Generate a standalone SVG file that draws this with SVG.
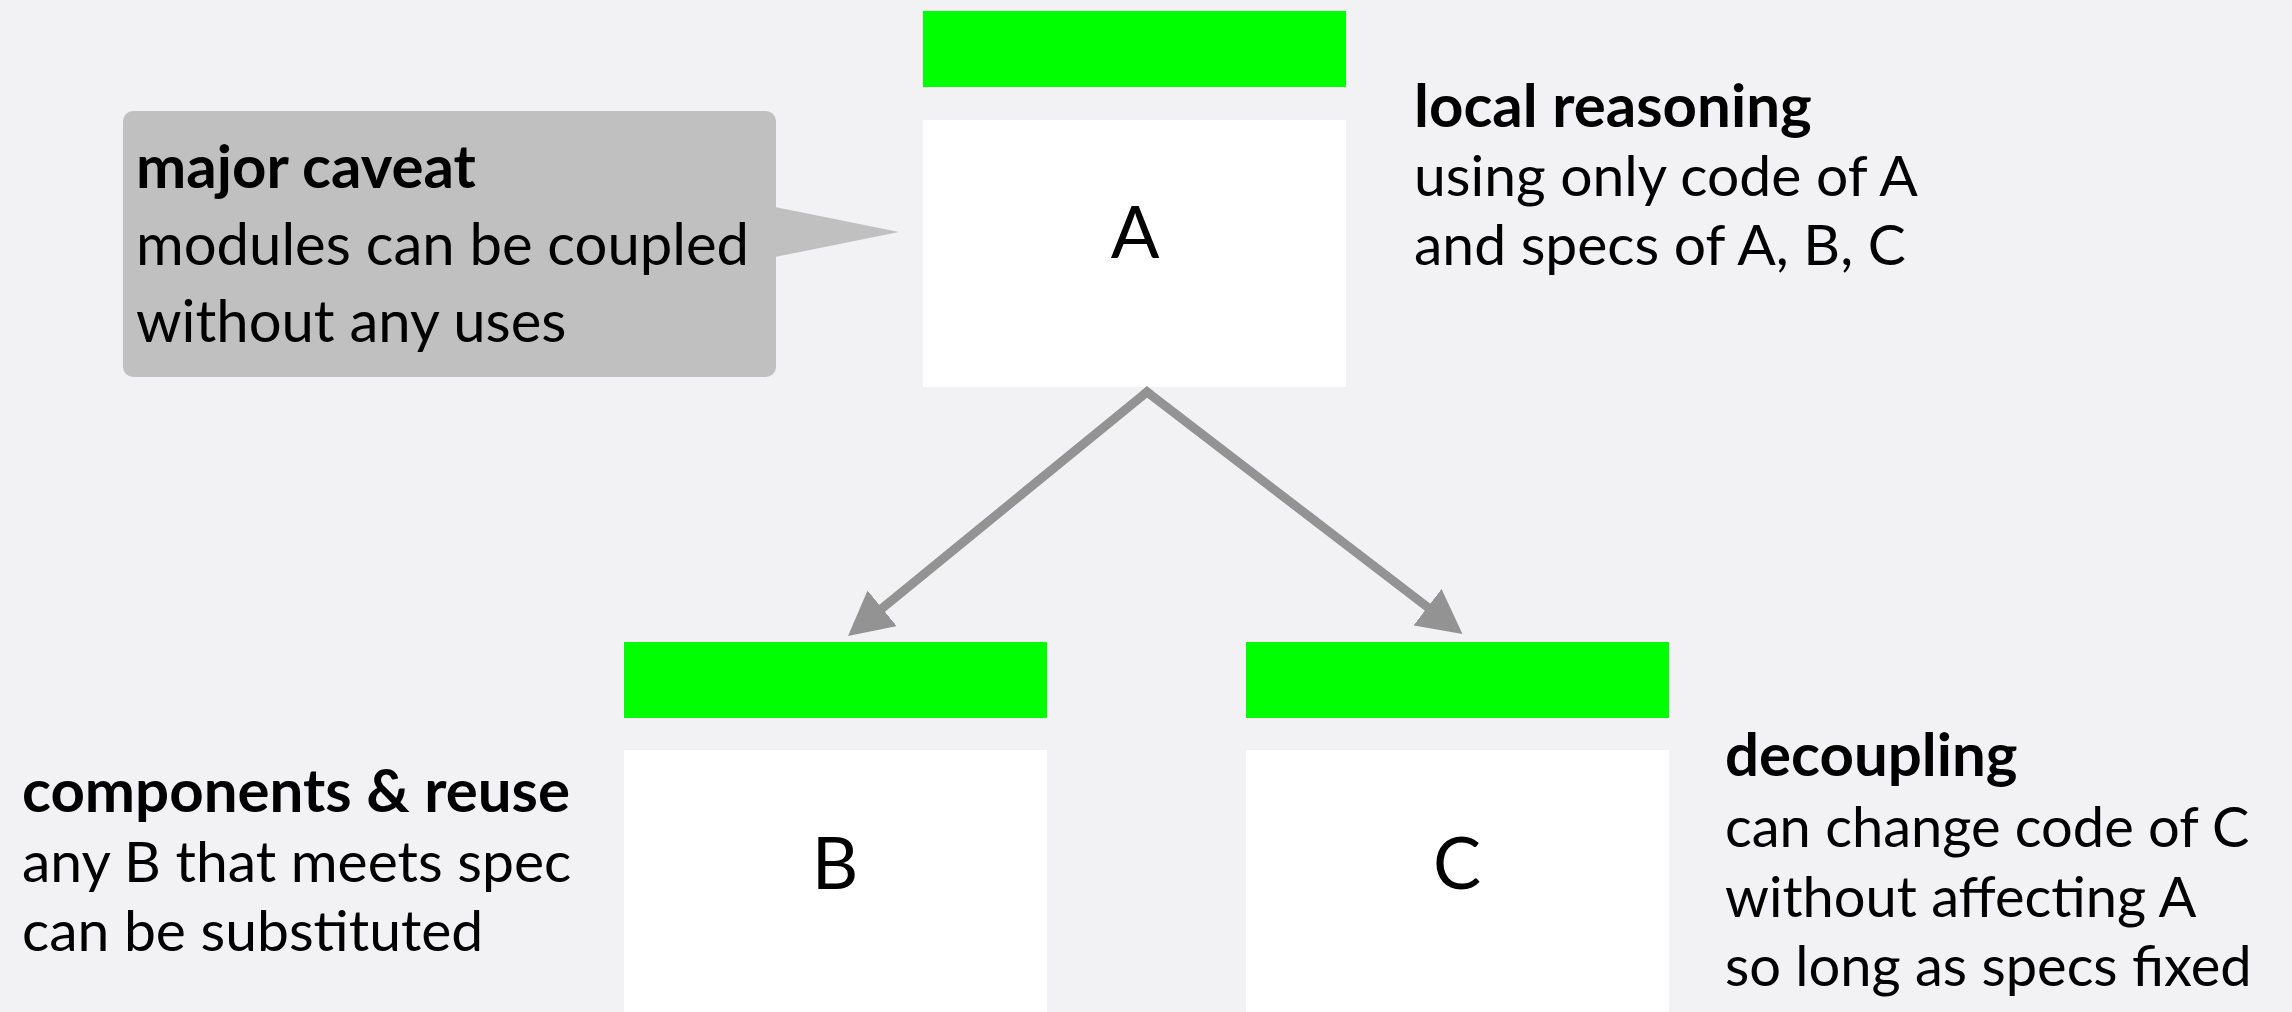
<svg xmlns="http://www.w3.org/2000/svg" width="2292" height="1012" viewBox="0 0 2292 1012">
<defs>
<style>
.bar{fill:#00ff00}
.box{fill:#ffffff}
.lbl{font-family:Lato,"Open Sans",sans-serif;font-size:72px;fill:#000;text-anchor:middle}
.t{font-family:Lato,"Open Sans",sans-serif;font-size:57px;fill:#000}
.tc{font-family:Lato,"Open Sans",sans-serif;font-size:58px;fill:#000}
.b{font-weight:bold;font-size:60px}
.conn{fill:none;stroke:#939393;stroke-width:9;stroke-linejoin:miter}
</style>
<marker id="ah" markerUnits="userSpaceOnUse" markerWidth="44" markerHeight="46" viewBox="0 0 44 46" refX="24" refY="23" orient="auto">
<path d="M0,0 L44,23 L0,46 Z" fill="#939393"/>
</marker>
</defs>
<rect width="2292" height="1012" fill="#f2f2f4"/>
<g id="caveat">
<rect x="123" y="111" width="653" height="266" rx="10" fill="#c0c0c0"/>
<path d="M770,206 L899,232 L770,258 Z" fill="#c0c0c0"/>
<text class="tc"><tspan class="b" x="136" y="188">major caveat</tspan><tspan x="136" y="265">modules can be coupled</tspan><tspan x="136" y="342">without any uses</tspan></text>
</g>
<g id="node-A">
<rect class="bar" x="923" y="11" width="423" height="76"/>
<rect class="box" x="923" y="120" width="423" height="267"/>
<text class="lbl" x="1135" y="258">A</text>
</g>
<g id="node-B">
<rect class="bar" x="624" y="642" width="423" height="76"/>
<rect class="box" x="624" y="750" width="423" height="267"/>
<text class="lbl" x="835" y="889">B</text>
</g>
<g id="node-C">
<rect class="bar" x="1246" y="642" width="423" height="76"/>
<rect class="box" x="1246" y="750" width="423" height="267"/>
<text class="lbl" x="1457" y="889">C</text>
</g>
<g id="label-local">
<text class="t"><tspan class="b" x="1414" y="127">local reasoning</tspan><tspan x="1414" y="196">using only code of A</tspan><tspan x="1414" y="265">and specs of A, B, C</tspan></text>
</g>
<g id="label-components">
<text class="t"><tspan class="b" x="22" y="812">components &amp; reuse</tspan><tspan x="22" y="882">any B that meets spec</tspan><tspan x="22" y="951">can be substituted</tspan></text>
</g>
<g id="label-decoupling">
<text class="t" style="font-size:56px"><tspan class="b" x="1725" y="776">decoupling</tspan><tspan x="1725" y="847">can change code of C</tspan><tspan x="1725" y="917">without affecting A</tspan><tspan x="1725" y="986">so long as specs fixed</tspan></text>
</g>
<g id="connectors">
<path class="conn" d="M1150.2,394.4 L1147,392 L863.5,623.4" marker-end="url(#ah)"/>
<path class="conn" d="M1143.9,394.5 L1147,392 L1446.6,621.8" marker-end="url(#ah)"/>
</g>
</svg>
